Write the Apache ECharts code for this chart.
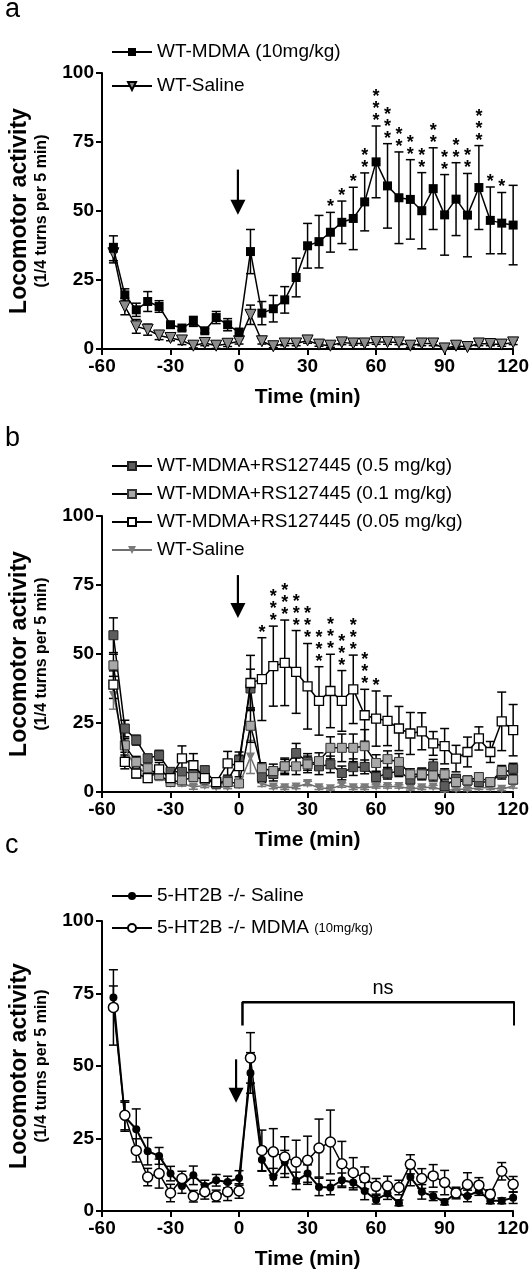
<!DOCTYPE html>
<html><head><meta charset="utf-8">
<script src="https://cdn.jsdelivr.net/npm/echarts@6/dist/echarts.min.js"></script>
<style>html,body{margin:0;padding:0;background:#fff}#c{width:532px;height:1280px}</style>
</head><body><div id="c"></div>
<script>
// ---------- data ----------
const times = [-55,-50,-45,-40,-35,-30,-25,-20,-15,-10,-5,0,5,10,15,20,25,30,35,40,45,50,55,60,65,70,75,80,85,90,95,100,105,110,115,120];
const xTicks = [-60,-30,0,30,60,90,120];
const yTicks = [0,25,50,75,100];

// panel a
const aMdma    = [36.5,19.6,14.2,17.2,15.4,8.8,7.6,10.0,6.6,11.4,8.8,6.0,35.3,13.0,14.6,17.8,25.9,37.4,38.9,42.3,45.9,47.3,53.3,67.8,59.1,54.8,54.2,50.1,58.1,48.6,54.3,48.5,58.5,46.6,45.6,44.9];
const aMdmaSem = [4.5,2.2,2.4,3.6,2.1,1.0,0.8,1.8,0.8,2.2,2.2,1.5,8.0,4.2,4.8,4.8,7.0,8.1,9.5,7.2,7.7,11.3,10.5,13.0,15.3,16.6,14.4,13.8,14.8,14.6,13.2,15.1,15.2,12.1,11.1,14.4];
const aSal     = [34.7,15.4,8.2,7.0,4.9,4.0,3.1,1.2,2.2,1.2,1.9,2.8,12.4,2.8,1.0,2.0,2.0,3.1,1.6,1.2,2.4,2.0,2.0,2.5,2.5,2.4,1.2,2.0,2.0,0.2,1.2,0.7,2.0,1.8,1.6,2.4];
const aSalSem  = [3.5,3.0,2.5,2.0,1.5,1.0,1.5,0.8,1.0,1.0,1.0,1.0,3.5,1.0,0.5,0.8,0.8,1.0,0.6,0.6,0.8,0.6,0.6,0.8,0.8,0.8,0.6,0.8,0.8,0.3,0.6,0.5,0.8,0.6,0.6,0.8];
const aStars   = [0,0,0,0,0,0,0,0,0,0,0,0,0,0,0,0,0,0,0,1,1,1,2,3,3,2,2,2,2,2,2,2,3,1,1,0];
const aArrow   = [-0.5, 65, 48.6];

// panel b
const bDark     = [56.8,23.0,18.8,12.2,13.3,7.3,7.3,6.8,7.9,3.1,4.2,11.5,37.5,5.4,6.5,9.3,14.1,10.9,9.3,10.0,6.9,9.0,9.1,5.4,6.7,7.6,4.5,6.7,9.3,2.1,4.8,4.2,3.6,3.6,6.7,8.4];
const bDarkSem  = [6.3,3,1.8,1.5,1.8,1.2,1.2,1.5,1.5,1,1,3,7,2,2.5,3,3.5,3,3,3,2.5,3,2.5,2,2,2,1.5,2,2.5,1.5,1.5,1.5,1.2,1.2,2,2];
const bLight    = [45.9,16.9,10.9,8.6,6.1,3.6,4.2,5.4,4.5,3.1,3.6,3.1,24.0,8.6,7.6,9.3,9.3,10.0,11.2,16.0,16.0,16.0,16.6,10.5,11.9,10.9,6.4,6.4,6.0,6.4,3.6,4.2,5.4,3.6,7.6,4.5];
const bLightSem = [4,2.5,2,1.5,1.5,1,1,1,1,1,1,1,6,2,2.5,2.5,3,3,3,4,5,5,6,3,3,3,2,2,2,2,1.5,1.5,1.5,1.2,2,1.5];
const bWhite    = [38.9,10.9,6.7,5.0,8.2,5.0,12.2,9.7,5.0,3.6,10.4,9.4,39.5,40.9,45.6,46.8,43.5,38.3,33.0,36.6,33.0,37.2,27.8,26.6,25.8,23.0,21.2,22.0,17.6,16.6,12.1,14.5,19.4,14.5,25.6,22.4];
const bWhiteSem = [5,2.5,1.5,1.5,2.5,1.5,4.5,4.2,1.5,1.2,4.3,3.9,10,15,14.5,15.5,15,15.5,12.4,13.3,11,12.4,9.4,10,9,8,7.6,6.7,4.3,6.4,4.8,5.4,4.2,3.8,10.6,9.3];
const bSal      = [35.0,15.8,8.6,6.8,5.4,3.1,3.1,1.8,2.4,1.8,1.8,2.5,12.7,3.0,1.8,1.5,1.8,3.1,1.5,1.2,2.5,1.5,1.5,2.0,2.0,2.0,1.2,1.5,1.8,0.5,1.0,1.0,1.5,1.5,1.0,2.2];
const bSalSem   = [5,3,2,1.5,1.2,1,1,0.8,0.8,0.6,0.6,0.8,6,1,0.6,0.6,0.6,0.8,0.6,0.5,0.8,0.6,0.6,0.6,0.6,0.6,0.5,0.6,0.6,0.4,0.5,0.5,0.6,0.6,0.5,0.8];
const bStars    = [0,0,0,0,0,0,0,0,0,0,0,0,0,1,3,3,3,3,3,3,3,3,3,1,0,0,0,0,0,0,0,0,0,0,0,0];
const bArrow    = [-0.5, 78.6, 63];

// panel c
const cSal     = [73.6,32.5,28.2,20.6,19.0,12.9,8.6,12.3,8.6,10.6,10.0,11.4,47.6,17.7,11.7,16.9,10.4,12.9,8.3,8.1,10.6,9.8,6.9,3.9,6.0,2.8,11.7,6.6,5.1,3.1,6.2,5.2,6.9,3.5,3.5,4.6];
const cSalSem  = [4,5,7,4.7,2.9,2.5,2.5,3.2,2,2,2,2.5,7,4,3,4,3,3,3,2.5,2.5,2.5,3,1.5,2,1,3,2.5,1.5,1,2,2,1.5,1,1,2];
const cMdma    = [70.2,33.0,20.9,11.7,12.9,6.2,11.2,5.1,6.6,5.2,6.6,6.9,52.8,20.9,20.4,18.6,16.9,17.5,21.7,23.8,16.3,13.2,11.4,8.5,8.6,8.1,16.1,11.2,12.1,9.8,6.2,9.1,8.9,5.8,13.7,9.2];
const cMdmaSem = [13,5,4,3,5,3,2.5,2,2.5,2,3,2.5,8.7,7,8,7,7.5,8.3,10,11,7.7,5.2,3.8,2.7,3.4,2.5,3.3,3.4,3.9,4.2,1.5,4.1,2.6,1.5,3,2.7];
const cArrow   = [-1.3, 52.3, 37.3];
const nsX = [1.5, 120.5];
const nsY = [64, 72];

// ---------- chart ----------
const FONT = 'Liberation Sans, Arial, sans-serif';
const chart = echarts.init(document.getElementById('c'), null, {renderer:'canvas', width:532, height:1280});

const grids = [
  {left:100, right:18, top:73, height:276},
  {left:100, right:18, top:516, height:276},
  {left:100, right:18, top:921, height:290}
];

function xAx(i){
  return {type:'value', gridIndex:i, min:xTicks[0], max:xTicks[xTicks.length-1], interval:30,
    axisLine:{show:true, onZero:false, lineStyle:{color:'#000', width:2}},
    axisTick:{show:true, inside:false, length:6, lineStyle:{color:'#000', width:2}},
    axisLabel:{show:true, color:'#000', fontSize:19, fontWeight:'bold', fontFamily:FONT, margin:8, showMinLabel:true, showMaxLabel:true},
    splitLine:{show:false},
    name:'Time (min)', nameLocation:'middle', nameGap:38,
    nameTextStyle:{color:'#000', fontSize:21, fontWeight:'bold', fontFamily:FONT}};
}
function yAx(i){
  return {type:'value', gridIndex:i, min:yTicks[0], max:yTicks[yTicks.length-1], interval:25,
    axisLine:{show:true, onZero:false, lineStyle:{color:'#000', width:2}},
    axisTick:{show:true, inside:false, length:6, lineStyle:{color:'#000', width:2}},
    axisLabel:{show:true, color:'#000', fontSize:19, fontWeight:'bold', fontFamily:FONT, margin:8, showMinLabel:true, showMaxLabel:true},
    splitLine:{show:false},
    name:'{a|Locomotor activity}\n{b|(1/4 turns per 5 min)}', nameLocation:'middle', nameGap:51,
    nameTextStyle:{color:'#000', fontFamily:FONT, align:'center',
      rich:{a:{fontSize:23, fontWeight:'bold', fontFamily:FONT, lineHeight:25, color:'#000'},
            b:{fontSize:16, fontWeight:'bold', fontFamily:FONT, lineHeight:19, color:'#000'}}}};
}

function pts(m){ return times.map((t,i)=>[t, m[i]]); }

function errSeries(gi, m, s, color){
  return {type:'custom', xAxisIndex:gi, yAxisIndex:gi, silent:true, z:1, clip:false,
    data: times.map((t,i)=>[t, m[i], s[i]]),
    renderItem:(params, api)=>{
      const x = api.value(0), v = api.value(1), e = api.value(2);
      const p1 = api.coord([x, v+e]), p2 = api.coord([x, Math.max(v-e,0)]);
      const w = 4.5;
      const st = {stroke:color, lineWidth:1.5, fill:null};
      return {type:'group', children:[
        {type:'line', shape:{x1:p1[0],y1:p1[1],x2:p2[0],y2:p2[1]}, style:st},
        {type:'line', shape:{x1:p1[0]-w,y1:p1[1],x2:p1[0]+w,y2:p1[1]}, style:st},
        {type:'line', shape:{x1:p2[0]-w,y1:p2[1],x2:p2[0]+w,y2:p2[1]}, style:st}
      ]};
    }};
}

function lineSeries(gi, name, m, sym, size, fill, border, bw, lineColor, lw, z){
  return {type:'line', name:name, xAxisIndex:gi, yAxisIndex:gi, data:pts(m),
    symbol:sym==='down'?'triangle':sym, symbolRotate:sym==='down'?180:0, symbolSize:size,
    showAllSymbol:true, animation:false, z:z||2, clip:false,
    lineStyle:{color:lineColor, width:lw},
    itemStyle:{color:fill, borderColor:border, borderWidth:bw}};
}

// text annotations drawn at data coordinates
function textSeries(gi, data, styleExtra, dy){
  return {type:'custom', xAxisIndex:gi, yAxisIndex:gi, silent:true, z:7, clip:false,
    data:data,
    renderItem:(params, api)=>{
      const p = api.coord([api.value(0), api.value(1)]);
      const txt = data[params.dataIndex][2];
      return {type:'text', x:p[0], y:p[1]+dy,
        style:Object.assign({text:txt, fill:'#000', fontFamily:FONT, align:'center', verticalAlign:'bottom'}, styleExtra)};
    }};
}

function starSeries(gi, m, s, st){
  const d = [];
  times.forEach((t,i)=>{ if(st[i]>0) d.push([t, m[i]+s[i], Array(st[i]).fill('*').join('\n')]); });
  return textSeries(gi, d, {fontSize:18, fontWeight:'bold', lineHeight:12}, 1);
}

function arrowSeries(gi, a){
  return {type:'custom', xAxisIndex:gi, yAxisIndex:gi, silent:true, z:6, clip:false,
    data:[a],
    renderItem:(params, api)=>{
      const p1 = api.coord([api.value(0), api.value(1)]);
      const p2 = api.coord([api.value(0), api.value(2)]);
      const hh = 15, hw = 7.5;
      return {type:'group', children:[
        {type:'line', shape:{x1:p1[0],y1:p1[1],x2:p2[0],y2:p2[1]-hh+2}, style:{stroke:'#000', lineWidth:2.2}},
        {type:'polygon', shape:{points:[[p2[0]-hw,p2[1]-hh],[p2[0]+hw,p2[1]-hh],[p2[0],p2[1]]]}, style:{fill:'#000'}}
      ]};
    }};
}

const legendText = {color:'#000', fontSize:19, fontFamily:FONT, lineHeight:20,
  rich:{s:{fontSize:13, fontFamily:FONT, color:'#000'}}};

const option = {
  animation:false,
  backgroundColor:'#fff',
  grid:grids,
  xAxis:[xAx(0), xAx(1), xAx(2)],
  yAxis:[yAx(0), yAx(1), yAx(2)],
  legend:[
    {data:['WT-MDMA (10mg/kg)','WT-Saline'], orient:'vertical', left:111, top:42, padding:0,
     itemWidth:40, itemHeight:10, itemGap:14, textStyle:legendText, selectedMode:false},
    {data:['WT-MDMA+RS127445 (0.5 mg/kg)','WT-MDMA+RS127445 (0.1 mg/kg)','WT-MDMA+RS127445 (0.05 mg/kg)','WT-Saline '],
     orient:'vertical', left:111, top:456, padding:0,
     itemWidth:40, itemHeight:10, itemGap:8, textStyle:legendText, selectedMode:false,
     formatter:n=>n.trim()},
    {data:['5-HT2B -/- Saline','5-HT2B -/- MDMA'], orient:'vertical', left:111, top:886, padding:0,
     itemWidth:40, itemHeight:10, itemGap:12, textStyle:legendText, selectedMode:false,
     formatter:n=> n==='5-HT2B -/- MDMA' ? n+' {s|(10mg/kg)}' : n}
  ],
  graphic:[
    {type:'text', left:5, top:-4, style:{text:'a', fontSize:27, fontFamily:FONT, fill:'#000'}},
    {type:'text', left:5, top:425, style:{text:'b', fontSize:27, fontFamily:FONT, fill:'#000'}},
    {type:'text', left:5, top:832, style:{text:'c', fontSize:27, fontFamily:FONT, fill:'#000'}}
  ],
  series:[
    // panel a
    errSeries(0, aSal, aSalSem, '#000'),
    errSeries(0, aMdma, aMdmaSem, '#000'),
    lineSeries(0, 'WT-Saline', aSal, 'down', 11, '#8c8c8c', '#000', 1, '#000', 1.5, 2),
    lineSeries(0, 'WT-MDMA (10mg/kg)', aMdma, 'rect', 9, '#000', '#000', 0, '#000', 1.5, 3),
    starSeries(0, aMdma, aMdmaSem, aStars),
    arrowSeries(0, aArrow),
    // panel b
    errSeries(1, bSal, bSalSem, '#777'),
    errSeries(1, bDark, bDarkSem, '#000'),
    errSeries(1, bLight, bLightSem, '#000'),
    errSeries(1, bWhite, bWhiteSem, '#000'),
    lineSeries(1, 'WT-Saline ', bSal, 'down', 9, '#7a7a7a', '#7a7a7a', 0, '#6e6e6e', 1.5, 2),
    lineSeries(1, 'WT-MDMA+RS127445 (0.5 mg/kg)', bDark, 'rect', 9, '#5c5c5c', '#222', 1, '#000', 1.5, 3),
    lineSeries(1, 'WT-MDMA+RS127445 (0.1 mg/kg)', bLight, 'rect', 9, '#a8a8a8', '#333', 1, '#000', 1.5, 3),
    lineSeries(1, 'WT-MDMA+RS127445 (0.05 mg/kg)', bWhite, 'rect', 9, '#fff', '#000', 1.3, '#000', 1.5, 4),
    starSeries(1, bWhite, bWhiteSem, bStars),
    arrowSeries(1, bArrow),
    // panel c
    errSeries(2, cSal, cSalSem, '#000'),
    errSeries(2, cMdma, cMdmaSem, '#000'),
    lineSeries(2, '5-HT2B -/- Saline', cSal, 'circle', 8, '#000', '#000', 0, '#000', 2, 3),
    lineSeries(2, '5-HT2B -/- MDMA', cMdma, 'circle', 10, '#fff', '#000', 1.5, '#000', 1.5, 4),
    arrowSeries(2, cArrow),
    {type:'line', xAxisIndex:2, yAxisIndex:2, silent:true, symbol:'none', clip:false, z:5,
     lineStyle:{color:'#000', width:2.5},
     data:[[nsX[0],nsY[0]],[nsX[0],nsY[1]],[nsX[1],nsY[1]],[nsX[1],nsY[0]]]},
    textSeries(2, [[(nsX[0]+nsX[1])/2+2, nsY[1], 'ns']], {fontSize:20}, -4)
  ]
};
chart.setOption(option);
</script></body></html>
